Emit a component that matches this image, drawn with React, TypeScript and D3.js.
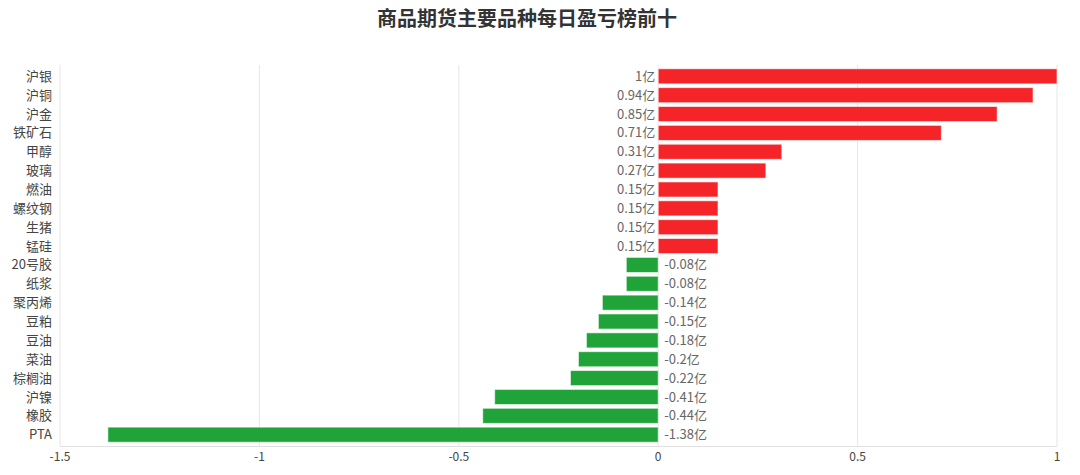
import { useRef, useEffect } from 'react';
import * as d3 from 'd3';

const categories = [
  '沪银', '沪铜', '沪金', '铁矿石', '甲醇', '玻璃', '燃油', '螺纹钢', '生猪', '锰硅',
  '20号胶', '纸浆', '聚丙烯', '豆粕', '豆油', '菜油', '棕榈油', '沪镍', '橡胶', 'PTA',
];
const values = [
  1, 0.94, 0.85, 0.71, 0.31, 0.27, 0.15, 0.15, 0.15, 0.15,
  -0.08, -0.08, -0.14, -0.15, -0.18, -0.2, -0.22, -0.41, -0.44, -1.38,
];
const xTicks = [-1.5, -1, -0.5, 0, 0.5, 1];
const title = '商品期货主要品种每日盈亏榜前十';

const WIDTH = 1080;
const HEIGHT = 475;

export default function App() {
  const svgRef = useRef<SVGSVGElement>(null);

  useEffect(() => {
    if (!svgRef.current) return;
    const svg = d3.select(svgRef.current);
    svg.selectAll('*').remove();

    const font = '"Microsoft YaHei", "Noto Sans CJK SC", sans-serif';
    const margin = { top: 65, right: 23, bottom: 29, left: 60 };
    const innerWidth = WIDTH - margin.left - margin.right;
    const innerHeight = HEIGHT - margin.top - margin.bottom;

    svg
      .append('text')
      .attr('x', 527)
      .attr('y', 26)
      .attr('text-anchor', 'middle')
      .attr('font-family', font)
      .attr('font-size', 20)
      .attr('font-weight', 'bold')
      .attr('fill', '#333')
      .text(title);

    const g = svg.append('g').attr('transform', `translate(${margin.left},${margin.top})`);

    const xScale = d3.scaleLinear().domain([-1.5, 1]).range([0, innerWidth]);
    const yScale = d3.scaleBand<string>().domain(categories).range([0, innerHeight]).padding(0.2);

    // vertical grid lines
    g.selectAll('line.grid')
      .data(xTicks)
      .enter()
      .append('line')
      .attr('class', 'grid')
      .attr('x1', (d) => xScale(d))
      .attr('x2', (d) => xScale(d))
      .attr('y1', 0)
      .attr('y2', innerHeight)
      .attr('stroke', '#e6e6e6')
      .attr('stroke-width', 1);

    // bottom axis line
    g.append('line')
      .attr('x1', 0)
      .attr('x2', innerWidth)
      .attr('y1', innerHeight + 0.5)
      .attr('y2', innerHeight + 0.5)
      .attr('stroke', '#e0e0e0');

    // bars
    g.selectAll('rect.bar')
      .data(values)
      .enter()
      .append('rect')
      .attr('class', 'bar')
      .attr('x', (d) => xScale(Math.min(0, d)))
      .attr('y', (_, i) => yScale(categories[i])!)
      .attr('width', (d) => Math.abs(xScale(d) - xScale(0)))
      .attr('height', yScale.bandwidth())
      .attr('fill', (d) => (d >= 0 ? '#f52428' : '#20a43a'))
      .attr('stroke', '#ffffff')
      .attr('stroke-opacity', 0.6)
      .attr('stroke-width', 1);

    // value labels
    g.selectAll('text.val')
      .data(values)
      .enter()
      .append('text')
      .attr('class', 'val')
      .attr('x', (d) => (d >= 0 ? xScale(0) - 3 : xScale(0) + 6))
      .attr('y', (_, i) => yScale(categories[i])! + yScale.bandwidth() / 2)
      .attr('dy', '0.35em')
      .attr('text-anchor', (d) => (d >= 0 ? 'end' : 'start'))
      .attr('font-family', font)
      .attr('font-size', 13)
      .attr('fill', '#666')
      .text((d) => `${d}亿`);

    // category labels
    g.selectAll('text.cat')
      .data(categories)
      .enter()
      .append('text')
      .attr('class', 'cat')
      .attr('x', -8)
      .attr('y', (d) => yScale(d)! + yScale.bandwidth() / 2)
      .attr('dy', '0.35em')
      .attr('text-anchor', 'end')
      .attr('font-family', font)
      .attr('font-size', 13)
      .attr('fill', '#444')
      .text((d) => d);

    // x tick labels
    g.selectAll('text.xt')
      .data(xTicks)
      .enter()
      .append('text')
      .attr('class', 'xt')
      .attr('x', (d) => xScale(d))
      .attr('y', innerHeight + 15)
      .attr('text-anchor', 'middle')
      .attr('font-family', font)
      .attr('font-size', 12)
      .attr('fill', '#444')
      .text((d) => d3.format('')(d).replace('−', '-'));
  }, []);

  return (
    <div style={{ width: WIDTH, height: HEIGHT, margin: -8 }}>
      <svg ref={svgRef} width={WIDTH} height={HEIGHT} style={{ display: 'block', background: '#fff' }} />
    </div>
  );
}
